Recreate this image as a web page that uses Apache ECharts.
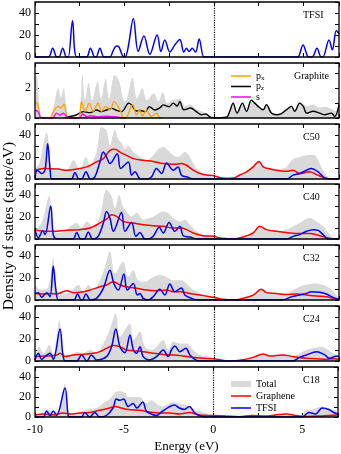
<!DOCTYPE html>
<html>
<head>
<meta charset="utf-8">
<script src="https://cdn.jsdelivr.net/npm/echarts@6/dist/echarts.min.js"></script>
<style>
  html, body { margin: 0; padding: 0; background: #fff; }
  #chart { width: 341px; height: 454px; }
</style>
</head>
<body>
<div id="chart"></div>
<script>
// [energy (eV), DOS] pairs
const tfsiBare = [[-10,0],[-9.25,0],[-9.01,8],[-8.78,0],[-8.66,0],[-8.45,8],[-8.24,0],[-8.14,0],[-7.9,33],[-7.66,0],[-7.12,0],[-6.9,8],[-6.66,0],[-6.58,0],[-6.37,8],[-6.14,0],[-5.82,0],[-5.62,6],[-5.45,10],[-5.32,9.5],[-5.1,1],[-4.97,0],[-4.8,8],[-4.5,35],[-4.23,5],[-3.91,19],[-3.58,2.5],[-3.17,20],[-2.96,5],[-2.74,15.5],[-2.46,4.5],[-2.18,11],[-1.9,16],[-1.68,4.5],[-1.53,8],[-1.38,5],[-1.21,8],[-1.02,4.5],[-0.82,16.3],[-0.56,0],[-0.4,0],[4.55,0],[4.7,0],[4.99,11],[5.3,0],[5.5,0],[5.77,8],[6.0,0],[6.1,0],[6.44,15.5],[6.63,6.5],[6.85,24],[7.0,21]];

const graphiteTotal = [[-10,2.8],[-9.9,2.8],[-9.8,1.5],[-9.63,0],[-9.1,0],[-8.95,0.8],[-8.7,2.0],[-8.55,1.4],[-8.4,2.0],[-8.25,0.8],[-8.14,0.1],[-7.6,0.1],[-7.35,2.9],[-7.2,1.2],[-7.0,2.35],[-6.8,1.2],[-6.5,2.45],[-6.3,1.3],[-6.05,2.65],[-5.85,1.3],[-5.55,2.9],[-5.3,2.5],[-5.1,1.4],[-4.95,1.1],[-4.55,2.7],[-4.3,1.3],[-4.0,2.0],[-3.75,1.2],[-3.35,1.65],[-3.1,1.1],[-2.85,1.75],[-2.6,1.0],[-2.3,1.2],[-1.9,1.3],[-1.6,0.8],[-1.3,0.9],[-1.0,0.6],[-0.6,0.4],[-0.3,0.2],[0,0.05],[0.7,0.05],[0.9,0.5],[1.08,1.05],[1.3,0.4],[1.6,1.05],[1.83,0.5],[2.1,1.25],[2.3,1.05],[2.5,0.85],[2.75,0.6],[2.94,0.95],[3.2,0.4],[3.5,0.25],[3.8,0.35],[4.06,0.6],[4.34,0.85],[4.52,0.5],[4.8,1.05],[5.0,0.95],[5.2,0.8],[5.55,0.9],[5.9,0.7],[6.2,0.75],[6.6,0.6],[6.8,0.45],[7.0,1.0]];
const graphitePx = [[-10,1.1],[-9.85,0.9],[-9.63,0],[-9.16,0],[-8.95,0.5],[-8.7,0.78],[-8.55,0.67],[-8.38,0.93],[-8.14,0],[-7.58,0],[-7.4,1.1],[-7.2,0.45],[-6.97,1.0],[-6.75,0.45],[-6.47,1.0],[-6.28,0.45],[-6.03,0.78],[-5.8,0.55],[-5.57,1.1],[-5.25,0.55],[-5.03,0],[-4.85,0.1],[-4.54,0.9],[-4.32,0.2],[-4.17,0.55],[-3.99,0.15],[-3.76,0.55],[-3.5,0.1],[-3.2,0.33],[-3.0,0],[-2.9,0]];
const graphitePz = [[-8.3,0],[-8.04,0.1],[-7.7,0.2],[-7.3,0.43],[-6.93,0.36],[-6.55,0.54],[-6.3,0.43],[-6.0,0.54],[-5.72,0.65],[-5.4,0.5],[-5.16,0.43],[-4.75,1.0],[-4.55,0.8],[-4.35,0.47],[-4.1,0.5],[-3.85,0.43],[-3.6,0.76],[-3.3,0.54],[-3.0,0.7],[-2.83,0.88],[-2.5,0.76],[-2.27,1.0],[-2.05,0.8],[-1.9,1.1],[-1.68,0.55],[-1.3,0.67],[-1.0,0.45],[-0.7,0.22],[-0.45,0.27],[-0.22,0.07],[0,0],[0.7,0.05],[0.89,0.45],[1.08,1.0],[1.3,0.33],[1.6,1.0],[1.83,0.45],[2.1,1.2],[2.29,1.0],[2.48,0.78],[2.76,0.55],[2.94,0.9],[3.22,0.33],[3.5,0.22],[3.78,0.3],[4.06,0.55],[4.34,0.78],[4.52,0.45],[4.8,1.0],[5.0,0.78],[5.2,0.33],[5.55,0.45],[5.92,0.33],[6.2,0.22],[6.57,0.33],[6.76,0.1],[7.0,0.9]];
const graphiteS = [[-10,0.5],[-9.85,0.45],[-9.63,0],[-9.0,0],[-8.8,0.33],[-8.6,0.2],[-8.42,0.33],[-8.14,0],[-7.5,0],[-7.35,0.27],[-7.1,0.1],[-6.9,0.15],[-6.5,0.08],[-6.0,0.12],[-5.5,0.08],[-5.0,0],[-4.9,0]];

const c50Total = [[-10,9.5],[-9.76,14],[-9.35,42],[-9.07,9.5],[-8.79,8],[-8.23,8],[-7.86,17],[-7.49,9.5],[-7.15,20],[-6.93,12.5],[-6.56,24.5],[-6.28,47],[-6.0,44],[-5.81,30],[-5.53,45],[-5.34,36],[-5.16,33],[-4.97,27],[-4.78,30],[-4.5,24.5],[-4.13,20],[-3.76,17],[-3.39,21.5],[-3.11,27],[-2.83,29],[-2.55,26],[-2.27,21.5],[-2.0,20],[-1.62,24.5],[-1.34,20],[-0.97,9.5],[-0.6,5],[-0.22,3],[0,1.2],[0.34,0.5],[0.71,0.3],[1.08,0.6],[1.45,3.6],[1.83,7],[2.2,11],[2.53,16.5],[2.76,12],[2.94,10],[3.22,9.5],[3.5,8.5],[3.87,9.5],[4.06,11],[4.43,18],[4.8,20],[5.18,21.5],[5.55,22],[5.74,20],[6.01,11],[6.29,3.5],[6.57,0.5],[7,0]];
const c50Graphene = [[-10,8],[-9.53,9.5],[-8.7,9],[-8.23,8],[-7.5,9.5],[-7.11,11],[-6.56,15.5],[-6.18,18.5],[-5.81,26],[-5.53,27],[-5.25,24.5],[-4.88,21.5],[-4.5,18.5],[-3.95,17],[-3.39,16],[-2.83,14],[-2.27,13.4],[-1.81,14],[-1.53,12.5],[-1.15,8],[-0.78,5],[-0.41,3.6],[0,3],[0.34,1.2],[0.71,0.6],[1.08,0.6],[1.45,3.6],[1.83,6.5],[2.2,11],[2.53,16],[2.76,11],[3.04,9.5],[3.5,8],[4.06,7],[4.43,8],[4.8,5],[5.36,6.5],[5.74,4],[6.2,1],[6.67,0],[7,0]];
const c50Tfsi = [[-10,0.5],[-9.87,8],[-9.63,5],[-9.44,8],[-9.29,32],[-9.16,9.5],[-9.07,0],[-8.9,0],[-8.04,0],[-7.95,0],[-7.77,6],[-7.55,0],[-7.4,0],[-7.15,6.5],[-6.9,0],[-6.65,2],[-6.37,15.5],[-6.18,24.5],[-6.0,20],[-5.81,14],[-5.4,23],[-5.21,9.5],[-4.78,15.5],[-4.6,3.5],[-4.41,6.5],[-4.1,0],[-3.7,0],[-3.48,2],[-3.2,9.5],[-2.92,5],[-2.64,14.6],[-2.27,8],[-2.0,11],[-1.81,3.5],[-1.53,2],[-1.15,0],[-1.0,0],[3.9,0],[4.1,0],[4.43,3.5],[4.8,5],[5.18,8],[5.46,9.5],[5.83,6.5],[6.2,1],[6.5,0],[7,0]];

const c40Total = [[-10,8.5],[-9.63,14.5],[-9.2,39],[-8.98,8.5],[-8.6,5.5],[-8.23,8.5],[-7.67,14.5],[-7.39,10],[-7.11,16],[-6.74,10],[-6.37,20.5],[-6.0,45],[-5.72,39],[-5.53,28],[-5.29,40],[-5.1,30],[-4.88,25],[-4.6,20.5],[-4.32,23.6],[-3.95,17.6],[-3.58,19],[-3.2,22],[-2.83,25],[-2.55,23.6],[-2.27,19],[-1.9,16],[-1.62,17.6],[-1.34,13],[-0.97,7],[-0.6,4],[-0.22,2.4],[0,0.6],[0.34,1],[0.71,0.3],[1.08,0.3],[1.64,1.8],[2.2,5.5],[2.57,11.5],[2.94,8.5],[3.5,7],[4.06,8.5],[4.43,11.5],[4.8,14.5],[5.36,19],[5.74,16],[6.11,11.5],[6.48,4],[6.76,0.5],[7,0]];
const c40Graphene = [[-10,8.5],[-9.53,7],[-8.98,7],[-8.23,8],[-7.49,8.5],[-6.93,10],[-6.37,14.5],[-6.0,18],[-5.72,22],[-5.44,20.6],[-5.07,16],[-4.5,14.5],[-3.95,13],[-3.39,12],[-2.83,11.5],[-2.27,10],[-1.81,10],[-1.53,8.5],[-1.15,5.5],[-0.6,3],[0,2.4],[0.34,1],[1.08,0],[1.64,1.8],[2.2,5.5],[2.57,11.5],[2.94,8.5],[3.5,7],[4.25,5.5],[4.8,5],[5.36,5],[5.92,3],[6.39,1],[6.67,0],[7,0]];
const c40Tfsi = [[-10,8.5],[-9.81,1],[-9.57,7.5],[-9.44,4],[-9.12,30],[-8.98,4],[-8.79,0],[-8.6,0],[-7.95,0],[-7.85,0],[-7.67,6],[-7.45,0],[-7.25,0],[-7.02,6.4],[-6.78,0],[-6.47,2.4],[-6.18,14.5],[-6.0,25],[-5.81,19],[-5.62,7],[-5.16,24],[-4.97,7],[-4.6,15],[-4.36,2.4],[-4.13,6],[-3.85,0],[-3.65,0],[-3.39,2.4],[-3.05,10.6],[-2.83,5.5],[-2.5,15],[-2.18,7],[-1.9,11.5],[-1.71,3],[-1.34,1.8],[-0.97,0],[-0.8,0],[3.9,0],[4.06,0],[4.43,2.4],[4.8,4],[5.18,7],[5.55,8.5],[5.83,7.8],[6.11,4],[6.39,0],[7,0]];

const c32Total = [[-10,13.6],[-9.63,9],[-9.26,12],[-8.98,38],[-8.79,9],[-8.32,6],[-7.95,9],[-7.58,13.6],[-7.3,7.5],[-7.02,13.6],[-6.74,9],[-6.37,18],[-6.09,30],[-5.81,44],[-5.53,24],[-5.07,35],[-4.78,21],[-4.5,27],[-4.23,18],[-3.85,16.7],[-3.39,21],[-3.02,22.7],[-2.64,21],[-2.27,18],[-1.81,18],[-1.53,15],[-1.15,9],[-0.78,6],[-0.41,4.5],[0,2.4],[0.52,0.6],[1.08,0.2],[1.64,1.5],[2.2,4.5],[2.66,9.7],[2.94,6.7],[3.5,6],[4.06,6],[4.43,9],[4.8,12],[5.18,14],[5.74,15],[6.11,13.6],[6.48,10.6],[6.85,4.5],[7,2]];
const c32Graphene = [[-10,6],[-9.53,5.5],[-9.16,6],[-8.79,5.5],[-8.23,8.5],[-7.86,6.7],[-7.3,7.5],[-6.93,9],[-6.37,12],[-6.0,13.6],[-5.62,16.7],[-5.25,13.6],[-4.88,12],[-4.32,10.6],[-3.76,9],[-3.2,8.5],[-2.64,9],[-2.27,7.5],[-1.81,7.5],[-1.34,6],[-0.78,4.5],[-0.22,3],[0,2.4],[0.52,0.6],[1.08,0],[1.64,1.5],[2.2,4.5],[2.66,9.7],[2.94,6.7],[3.5,6],[4.06,5],[4.62,5.5],[5.18,4.5],[5.74,3.6],[6.29,3],[6.67,1.5],[7,0.6]];
const c32Tfsi = [[-10,6],[-9.81,6.7],[-9.63,2.4],[-9.35,6.7],[-9.16,3],[-8.98,31],[-8.83,9],[-8.7,0],[-8.5,0],[-7.95,0],[-7.82,0],[-7.62,5.5],[-7.42,0],[-7.35,0],[-7.15,5.5],[-6.9,0],[-6.56,1.5],[-6.18,10.6],[-5.81,27],[-5.59,15],[-5.34,9],[-5.03,23.6],[-4.84,9],[-4.5,15],[-4.28,4.5],[-4.13,6],[-3.95,1.5],[-3.67,0],[-3.39,3],[-3.02,9.7],[-2.74,4.5],[-2.46,14.5],[-2.18,7.5],[-1.81,11],[-1.62,4.5],[-1.25,1.5],[-0.9,0],[-0.7,0],[3.7,0],[3.87,0],[4.25,2.4],[4.8,4.5],[5.18,6],[5.46,7.6],[5.92,7],[6.29,5.5],[6.67,2.4],[7,0.5]];

const c24Total = [[-10,2.4],[-9.76,13],[-9.53,7],[-9.2,14.5],[-8.98,5.5],[-8.64,37],[-8.42,7],[-8.04,5.5],[-7.67,8.5],[-7.3,7],[-6.93,10],[-6.56,7],[-6.18,16],[-5.9,25],[-5.48,43],[-5.25,22],[-4.69,34],[-4.5,19],[-4.13,26.7],[-3.85,13],[-3.48,10],[-3.2,13],[-2.83,19],[-2.55,10],[-2.27,17.6],[-1.9,16],[-1.53,16],[-1.15,10],[-0.78,5.5],[-0.41,4],[0,1.5],[0.71,0.2],[1.45,1],[2.2,3.3],[2.76,6.4],[3.13,4.5],[3.87,5.5],[4.43,4],[4.8,7],[5.18,10],[5.64,12],[6.01,13],[6.39,10],[6.67,7],[7,4.5]];
const c24Graphene = [[-10,4],[-9.35,4.5],[-8.79,5.5],[-8.6,7],[-8.32,4],[-7.86,5.5],[-7.3,6],[-6.74,7],[-6.37,8.5],[-6.0,11.5],[-5.62,14],[-5.25,13],[-4.88,10],[-4.5,9.4],[-3.95,8.5],[-3.39,7],[-2.83,6],[-2.27,5.5],[-1.71,4.5],[-1.15,3.3],[-0.6,2.4],[0,2.1],[0.71,0],[1.45,0.8],[2.2,3.3],[2.76,6.4],[3.13,4.5],[3.87,5.5],[4.43,4],[5.18,2.4],[5.74,2.1],[6.29,1.5],[6.67,2.1],[7,1.5]];
const c24Tfsi = [[-10,1],[-9.81,7],[-9.63,1.5],[-9.44,4],[-9.16,7],[-8.98,1.5],[-8.6,29],[-8.45,7],[-8.32,0],[-8.1,0],[-7.67,0],[-7.39,5.5],[-7.11,0],[-6.84,5.5],[-6.56,1],[-6.0,4],[-5.72,13],[-5.48,29],[-5.25,13],[-4.97,7.5],[-4.69,23.6],[-4.5,10],[-4.32,7],[-4.13,13],[-3.95,4],[-3.58,1],[-3.2,4],[-2.83,10],[-2.55,4],[-2.37,10],[-2.18,13.6],[-1.9,8.5],[-1.56,11.5],[-1.34,5.5],[-1.06,1.5],[-0.8,0],[-0.6,0],[4.2,0],[4.4,0],[4.8,3.3],[5.18,5.5],[5.74,8.5],[6.2,5.5],[6.48,2.4],[6.76,4],[7,4.5]];

const c18Total = [[-10,1.5],[-9.53,4.5],[-9.26,7.5],[-8.98,4.5],[-8.7,6],[-8.32,33],[-8.14,4.5],[-7.67,3],[-7.3,6],[-7.02,7.5],[-6.56,9],[-6.18,13.6],[-5.81,18],[-5.34,25.8],[-4.97,24.8],[-4.78,20],[-4.5,20],[-4.13,20],[-3.76,13.6],[-3.48,16.7],[-3.2,13.6],[-2.83,10.6],[-2.27,15],[-1.9,13.6],[-1.53,12],[-1.15,7.5],[-0.78,6],[-0.41,4],[0,1.5],[0.71,0.9],[1.45,0.3],[2.2,1.5],[2.57,0.9],[3.22,2],[3.78,3],[4.25,1.5],[4.62,0.9],[4.99,1.5],[5.18,7],[5.55,7.5],[6.11,10.6],[6.48,9],[6.76,7.5],[7,4.5]];
const c18Graphene = [[-10,2],[-9.53,3],[-8.98,2],[-8.42,4],[-8.04,3],[-7.49,4],[-6.93,4.5],[-6.37,6.7],[-5.81,9],[-5.53,10.6],[-5.16,9],[-4.78,7.5],[-4.13,6.7],[-3.58,5],[-3.02,4],[-2.46,4],[-1.9,3],[-1.34,4.5],[-0.78,2],[0,1.5],[0.71,0.9],[1.45,0.3],[2.2,1.5],[2.94,0.9],[3.5,2],[4.06,3],[4.62,1.5],[5.18,0.6],[5.92,0.9],[6.48,1.5],[7,2]];
const c18Tfsi = [[-10,0],[-9.7,0],[-9.53,0],[-9.35,6],[-9.16,1.5],[-8.98,6],[-8.79,1.5],[-8.32,29],[-8.14,1.5],[-8.04,0],[-7.9,0],[-7.39,0],[-7.21,4.5],[-6.93,0],[-6.65,4.5],[-6.37,0],[-6.0,1.5],[-5.62,9],[-5.44,18],[-5.25,16.7],[-5.03,18],[-4.78,10.6],[-4.5,13.6],[-4.28,9],[-3.95,15],[-3.76,6],[-3.48,3],[-3.2,1.5],[-2.83,6],[-2.18,12],[-1.9,9],[-1.62,7.5],[-1.34,10.6],[-1.06,4.5],[-0.78,1.5],[-0.5,0],[-0.3,0],[4.8,0],[5.0,0],[5.36,4.5],[5.74,3],[6.11,9],[6.48,7.5],[6.76,4.5],[7,3]];

const panelLabels = ['TFSI', 'Graphite', 'C50', 'C40', 'C32', 'C24', 'C18'];
const xTicks = [-10, -5, 0, 5];

const FONT = '"Liberation Serif", "Times New Roman", serif';
const GRAY = '#d9d9d9';
const LINE_ICON = 'path://M0,0H40V3H0Z';
const gridTop = [2, 63, 124, 184, 245, 306, 367];
const gridH = 55;

const chart = echarts.init(document.getElementById('chart'));

const grids = [], xAxes = [], yAxes = [], series = [];

const dotLine = {
  silent: true,
  symbol: ['none', 'none'],
  label: { show: false },
  lineStyle: { type: 'dotted', color: '#000', width: 1.2 },
  data: [{ xAxis: 0 }]
};

function lineSeries(name, data, color, gi, width) {
  return {
    name, type: 'line', data, xAxisIndex: 2 * gi, yAxisIndex: 2 * gi,
    smooth: 0.35, symbol: 'none', clip: true,
    lineStyle: { color, width: width || 1.5 }, itemStyle: { color }, z: 3
  };
}
function totalSeries(data, gi) {
  return {
    name: 'Total', type: 'line', data, xAxisIndex: 2 * gi, yAxisIndex: 2 * gi,
    smooth: 0.35, symbol: 'none', clip: true,
    lineStyle: { width: 0, color: GRAY }, itemStyle: { color: GRAY },
    areaStyle: { color: GRAY, opacity: 1 }, z: 2, markLine: dotLine
  };
}

panelLabels.forEach((lab, i) => {
  const last = i === panelLabels.length - 1;
  const isGraphite = i === 1;
  grids.push({ left: 35, right: 2, top: gridTop[i], height: gridH, show: true, borderColor: '#000', borderWidth: 1.3, z: 4 });
  const tick = { inside: true, length: 4, lineStyle: { color: '#000', width: 1 } };
  const xBase = {
    type: 'value', gridIndex: i, min: -10, max: 7, interval: 2.5,
    splitLine: { show: false }, axisLine: { show: false, onZero: false }, axisTick: tick
  };
  xAxes.push(Object.assign({}, xBase, {
    position: 'bottom',
    axisLabel: last ? {
      show: true, margin: 7, color: '#000', fontFamily: FONT, fontSize: 12,
      formatter: v => (xTicks.indexOf(v) >= 0 ? String(v) : '')
    } : { show: false },
    name: last ? 'Energy (eV)' : '',
    nameLocation: 'middle', nameGap: 23,
    nameTextStyle: { color: '#000', fontFamily: FONT, fontSize: 13 }
  }));
  xAxes.push(Object.assign({}, xBase, { position: 'top', axisLabel: { show: false } }));
  const yBase = {
    type: 'value', gridIndex: i, min: 0, max: isGraphite ? 3.7 : 50, interval: isGraphite ? 1 : 10,
    splitLine: { show: false }, axisLine: { show: false, onZero: false }, axisTick: tick
  };
  yAxes.push(Object.assign({}, yBase, {
    position: 'left',
    axisLabel: {
      show: true, margin: 4, color: '#000', fontFamily: FONT, fontSize: 12,
      showMaxLabel: false,
      formatter: v => isGraphite ? (v === 0 || v === 2 ? String(v) : '') : (v === 0 || v === 20 || v === 40 ? String(v) : '')
    }
  }));
  yAxes.push(Object.assign({}, yBase, { position: 'right', axisLabel: { show: false } }));
});

// TFSI alone
series.push(Object.assign(lineSeries('TFSI', tfsiBare, '#0000ff', 0), { markLine: dotLine }));
// Graphite
series.push(totalSeries(graphiteTotal, 1));
series.push(lineSeries('pz', graphitePz, '#000000', 1, 1.4));
series.push(lineSeries('px', graphitePx, '#ffa500', 1, 1.4));
series.push(lineSeries('s', graphiteS, '#ff00ff', 1, 1.4));
// TFSI on graphene sheets
const systems = [
  [c50Total, c50Graphene, c50Tfsi],
  [c40Total, c40Graphene, c40Tfsi],
  [c32Total, c32Graphene, c32Tfsi],
  [c24Total, c24Graphene, c24Tfsi],
  [c18Total, c18Graphene, c18Tfsi]
];
systems.forEach((s, k) => {
  const gi = k + 2;
  series.push(totalSeries(s[0], gi));
  series.push(lineSeries('Graphene', s[1], '#ff0000', gi));
  series.push(lineSeries('TFSI', s[2], '#0000ff', gi));
});

const graphic = panelLabels.map((lab, i) => ({
  type: 'text', left: i === 1 ? 294 : 303, top: gridTop[i] + 8, z: 10,
  style: { text: lab, fill: '#000', font: '10px ' + FONT }
}));
graphic.push({
  type: 'text', x: 9, y: 226, rotation: Math.PI / 2, z: 10,
  style: { text: 'Density of states (state/eV)', fill: '#000', font: '15.5px ' + FONT, align: 'center', verticalAlign: 'middle' }
});

chart.setOption({
  animation: false,
  backgroundColor: '#fff',
  grid: grids,
  xAxis: xAxes,
  yAxis: yAxes,
  series: series,
  graphic: graphic,
  legend: [
    {
      selectedMode: false, orient: 'vertical', left: 226, top: 66,
      itemWidth: 20, itemHeight: 6, itemGap: 0,
      data: [
        { name: 'px', icon: LINE_ICON },
        { name: 'pz', icon: LINE_ICON },
        { name: 's', icon: LINE_ICON }
      ],
      formatter: n => (n === 's' ? '{t|s}' : '{t|p}{b|' + n.charAt(1) + '}'),
      textStyle: {
        color: '#000', fontFamily: FONT, fontSize: 10,
        rich: {
          t: { fontFamily: FONT, fontSize: 10, lineHeight: 11, color: '#000' },
          b: { fontFamily: FONT, fontSize: 7, lineHeight: 5, verticalAlign: 'bottom', color: '#000' }
        }
      }
    },
    {
      selectedMode: false, orient: 'vertical', left: 226, top: 373,
      itemWidth: 20, itemHeight: 6, itemGap: 0,
      data: [
        { name: 'Total', icon: 'rect', itemStyle: { color: GRAY } },
        { name: 'Graphene', icon: LINE_ICON },
        { name: 'TFSI', icon: LINE_ICON }
      ],
      textStyle: { color: '#000', fontFamily: FONT, fontSize: 10, lineHeight: 12 }
    }
  ]
});
</script>
</body>
</html>
